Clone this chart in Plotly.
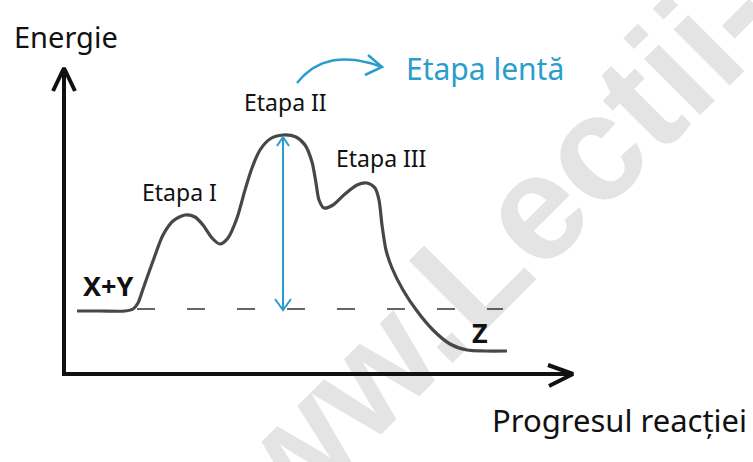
import numpy as np
import plotly.graph_objects as go

# ---- data (progress, energy); origin = axis corner ----
progress = [13, 36, 61, 69, 74, 79, 89, 99, 109, 121, 131, 139, 148, 156, 164, 173,
            181, 188, 196, 206, 219, 232, 241, 248, 252, 255, 260, 269, 281, 293,
            303, 311, 315, 318, 322, 328, 339, 353, 369, 386, 403, 421, 443]
energy = [63, 63, 63, 65, 71, 85, 113, 139, 153, 159, 157, 149, 136, 130, 136, 156,
          184, 206, 224, 235, 239, 237, 229, 212, 191, 174, 166, 169, 180, 189,
          191, 186, 174, 149, 124, 106, 84, 63, 44, 30, 24, 23, 23]

reactant_level = 65          # X+Y level (dashed reference)
dash_span = [73, 439]        # dashed line extent on progress axis
ts_progress = 219            # slow-step transition state
ts_energy = 237
ea_bottom = 64

axis_x_max = 509
axis_y_max = 306

labels = ["Energie", "Etapa lentă", "Etapa II", "Etapa III", "Etapa I", "X+Y", "Z", "Progresul reacției"]
label_x = [2, 421, 221, 317, 115, 44, 416, 555]
label_y = [338, 306, 272, 216, 182, 89, 42, -46]

BLUE = "#2a9dcc"
INK = "#111111"
CURVE = "#474747"

fig = go.Figure()

# energy profile
fig.add_trace(go.Scatter(x=progress, y=energy, mode="lines",
                         line=dict(color=CURVE, width=3.2, shape="spline", smoothing=0.8),
                         hoverinfo="skip"))

# dashed reactant level
fig.add_trace(go.Scatter(x=dash_span, y=[reactant_level, reactant_level], mode="lines",
                         line=dict(color="#333333", width=1.4, dash="18px,32px"),
                         hoverinfo="skip"))

# axes with open arrowheads
fig.add_trace(go.Scatter(x=[0, 0], y=[0, axis_y_max], mode="lines",
                         line=dict(color=INK, width=4), hoverinfo="skip"))
fig.add_trace(go.Scatter(x=[-11, 0, 11], y=[axis_y_max - 23, axis_y_max, axis_y_max - 23], mode="lines",
                         line=dict(color=INK, width=4), hoverinfo="skip"))
fig.add_trace(go.Scatter(x=[-2, axis_x_max], y=[0, 0], mode="lines",
                         line=dict(color=INK, width=4), hoverinfo="skip"))
fig.add_trace(go.Scatter(x=[axis_x_max - 25, axis_x_max, axis_x_max - 24], y=[9, 0, -12], mode="lines",
                         line=dict(color=INK, width=4), hoverinfo="skip"))

# activation energy double arrow
fig.add_trace(go.Scatter(x=[ts_progress, ts_progress], y=[ea_bottom, ts_energy], mode="lines",
                         line=dict(color=BLUE, width=2), hoverinfo="skip"))
fig.add_trace(go.Scatter(x=[ts_progress - 6, ts_progress, ts_progress + 6],
                         y=[ts_energy - 9, ts_energy, ts_energy - 9], mode="lines",
                         line=dict(color=BLUE, width=2), hoverinfo="skip"))
fig.add_trace(go.Scatter(x=[ts_progress - 8, ts_progress, ts_progress + 8],
                         y=[ea_bottom + 11, ea_bottom, ea_bottom + 11], mode="lines",
                         line=dict(color=BLUE, width=2), hoverinfo="skip"))

# curved pointer towards "Etapa lentă"
p0, p1, p2 = np.array([233, 291]), np.array([262, 328]), np.array([318, 307])
t = np.linspace(0, 1, 40)[:, None]
bez = (1 - t) ** 2 * p0 + 2 * (1 - t) * t * p1 + t ** 2 * p2
fig.add_trace(go.Scatter(x=bez[:, 0], y=bez[:, 1], mode="lines",
                         line=dict(color=BLUE, width=2.5), hoverinfo="skip"))
fig.add_trace(go.Scatter(x=[304, 318, 301], y=[319, 307, 299], mode="lines",
                         line=dict(color=BLUE, width=2.5), hoverinfo="skip"))

# labels
sizes = [29, 30, 23, 23, 23, 27, 27, 31]
colors = [INK, BLUE, INK, INK, INK, INK, INK, INK]
weights = ["normal", "normal", "normal", "normal", "normal", "bold", "bold", "normal"]
for txt, lx, ly, s, c, w in zip(labels, label_x, label_y, sizes, colors, weights):
    fig.add_annotation(x=lx, y=ly, text=txt, showarrow=False,
                       font=dict(family="Noto Sans", size=s, color=c, weight=w),
                       xanchor="center", yanchor="middle")

# watermark (below the traces)
wm_c = np.array([645, 361])
fig.add_shape(type="line", x0=wm_c[0] - 100, y0=wm_c[1] - 100, x1=wm_c[0] + 100, y1=wm_c[1] + 100,
              line=dict(color="rgba(0,0,0,0)", width=0), layer="below",
              label=dict(text="www.Lectii-Virtuale.ro", textposition="middle", textangle=-45,
                         xanchor="center", yanchor="middle",
                         font=dict(family="Liberation Sans", size=150, color="#e4e4e4", weight="bold")))

fig.update_layout(width=753, height=462, margin=dict(l=0, r=0, t=0, b=0),
                  paper_bgcolor="white", plot_bgcolor="white", showlegend=False,
                  xaxis=dict(range=[-64, 689], visible=False, fixedrange=True),
                  yaxis=dict(range=[-88, 374], visible=False, fixedrange=True))

fig.write_html("out.html", config={"displayModeBar": False},
               post_script="document.body.style.margin='0';document.body.style.overflow='hidden';")
